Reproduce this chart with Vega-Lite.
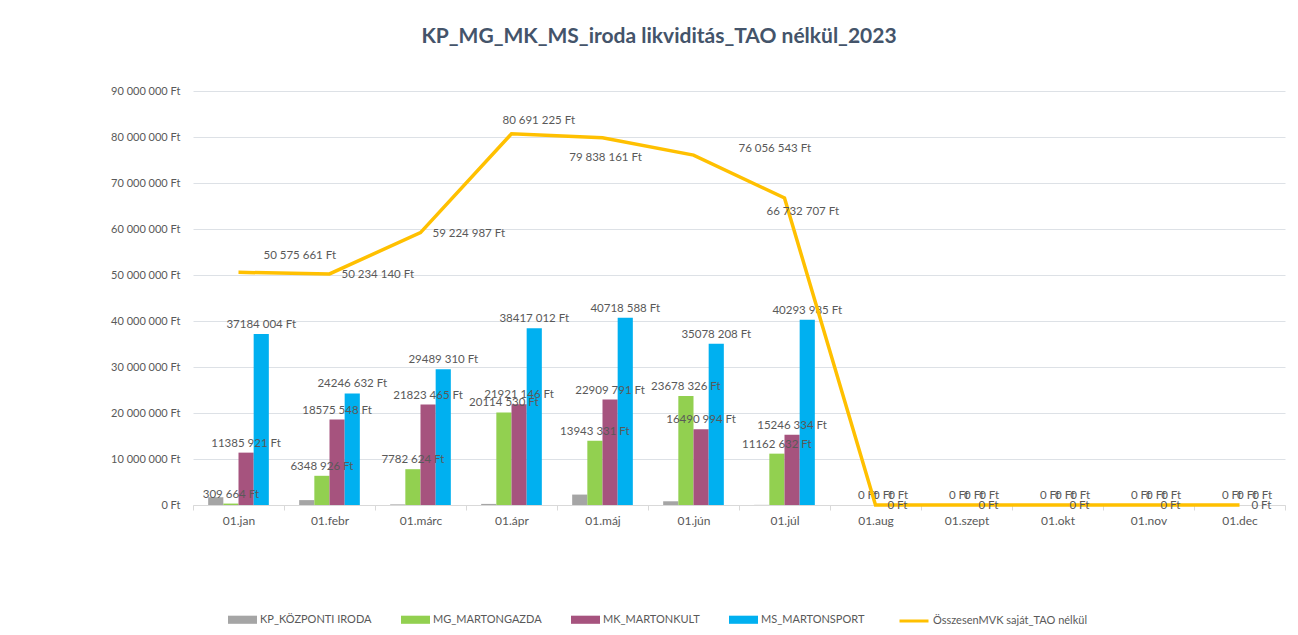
{
  "$schema": "https://vega.github.io/schema/vega-lite/v6.json",
  "width": 1092,
  "height": 414,
  "autosize": {"type": "none"},
  "padding": {"left": 193, "top": 91, "right": 13, "bottom": 130},
  "background": "white",
  "title": {
    "text": "KP_MG_MK_MS_iroda likviditás_TAO nélkül_2023",
    "font": "Lato",
    "fontSize": 21,
    "fontWeight": "bold",
    "color": "#44546A",
    "anchor": "middle",
    "frame": "group",
    "dx": -80,
    "offset": 38
  },
  "config": {
    "locale": {"number": {"decimal": ",", "thousands": " ", "grouping": [3], "currency": ["", " Ft"]}},
    "view": {"stroke": null},
    "font": "Lato",
    "text": {"font": "Lato"}
  },
  "datasets": {
    "bars": [
      {"month": "01.jan", "series": "KP_KÖZPONTI IRODA", "value": 1696072},
      {"month": "01.jan", "series": "MG_MARTONGAZDA", "value": 309664},
      {"month": "01.jan", "series": "MK_MARTONKULT", "value": 11385921},
      {"month": "01.jan", "series": "MS_MARTONSPORT", "value": 37184004},
      {"month": "01.febr", "series": "KP_KÖZPONTI IRODA", "value": 1063034},
      {"month": "01.febr", "series": "MG_MARTONGAZDA", "value": 6348926},
      {"month": "01.febr", "series": "MK_MARTONKULT", "value": 18575548},
      {"month": "01.febr", "series": "MS_MARTONSPORT", "value": 24246632},
      {"month": "01.márc", "series": "KP_KÖZPONTI IRODA", "value": 129588},
      {"month": "01.márc", "series": "MG_MARTONGAZDA", "value": 7782624},
      {"month": "01.márc", "series": "MK_MARTONKULT", "value": 21823465},
      {"month": "01.márc", "series": "MS_MARTONSPORT", "value": 29489310},
      {"month": "01.ápr", "series": "KP_KÖZPONTI IRODA", "value": 238537},
      {"month": "01.ápr", "series": "MG_MARTONGAZDA", "value": 20114530},
      {"month": "01.ápr", "series": "MK_MARTONKULT", "value": 21921146},
      {"month": "01.ápr", "series": "MS_MARTONSPORT", "value": 38417012},
      {"month": "01.máj", "series": "KP_KÖZPONTI IRODA", "value": 2266451},
      {"month": "01.máj", "series": "MG_MARTONGAZDA", "value": 13943331},
      {"month": "01.máj", "series": "MK_MARTONKULT", "value": 22909791},
      {"month": "01.máj", "series": "MS_MARTONSPORT", "value": 40718588},
      {"month": "01.jún", "series": "KP_KÖZPONTI IRODA", "value": 809015},
      {"month": "01.jún", "series": "MG_MARTONGAZDA", "value": 23678326},
      {"month": "01.jún", "series": "MK_MARTONKULT", "value": 16490994},
      {"month": "01.jún", "series": "MS_MARTONSPORT", "value": 35078208},
      {"month": "01.júl", "series": "KP_KÖZPONTI IRODA", "value": 29756},
      {"month": "01.júl", "series": "MG_MARTONGAZDA", "value": 11162632},
      {"month": "01.júl", "series": "MK_MARTONKULT", "value": 15246334},
      {"month": "01.júl", "series": "MS_MARTONSPORT", "value": 40293985},
      {"month": "01.aug", "series": "KP_KÖZPONTI IRODA", "value": 0},
      {"month": "01.aug", "series": "MG_MARTONGAZDA", "value": 0},
      {"month": "01.aug", "series": "MK_MARTONKULT", "value": 0},
      {"month": "01.aug", "series": "MS_MARTONSPORT", "value": 0},
      {"month": "01.szept", "series": "KP_KÖZPONTI IRODA", "value": 0},
      {"month": "01.szept", "series": "MG_MARTONGAZDA", "value": 0},
      {"month": "01.szept", "series": "MK_MARTONKULT", "value": 0},
      {"month": "01.szept", "series": "MS_MARTONSPORT", "value": 0},
      {"month": "01.okt", "series": "KP_KÖZPONTI IRODA", "value": 0},
      {"month": "01.okt", "series": "MG_MARTONGAZDA", "value": 0},
      {"month": "01.okt", "series": "MK_MARTONKULT", "value": 0},
      {"month": "01.okt", "series": "MS_MARTONSPORT", "value": 0},
      {"month": "01.nov", "series": "KP_KÖZPONTI IRODA", "value": 0},
      {"month": "01.nov", "series": "MG_MARTONGAZDA", "value": 0},
      {"month": "01.nov", "series": "MK_MARTONKULT", "value": 0},
      {"month": "01.nov", "series": "MS_MARTONSPORT", "value": 0},
      {"month": "01.dec", "series": "KP_KÖZPONTI IRODA", "value": 0},
      {"month": "01.dec", "series": "MG_MARTONGAZDA", "value": 0},
      {"month": "01.dec", "series": "MK_MARTONKULT", "value": 0},
      {"month": "01.dec", "series": "MS_MARTONSPORT", "value": 0}
    ],
    "total": [
      {"month": "01.jan", "total": 50575661},
      {"month": "01.febr", "total": 50234140},
      {"month": "01.márc", "total": 59224987},
      {"month": "01.ápr", "total": 80691225},
      {"month": "01.máj", "total": 79838161},
      {"month": "01.jún", "total": 76056543},
      {"month": "01.júl", "total": 66732707},
      {"month": "01.aug", "total": 0},
      {"month": "01.szept", "total": 0},
      {"month": "01.okt", "total": 0},
      {"month": "01.nov", "total": 0},
      {"month": "01.dec", "total": 0}
    ]
  },
  "encoding": {
    "x": {
      "field": "month",
      "type": "nominal",
      "sort": ["01.jan", "01.febr", "01.márc", "01.ápr", "01.máj", "01.jún", "01.júl", "01.aug", "01.szept", "01.okt", "01.nov", "01.dec"],
      "scale": {"domain": ["01.jan", "01.febr", "01.márc", "01.ápr", "01.máj", "01.jún", "01.júl", "01.aug", "01.szept", "01.okt", "01.nov", "01.dec"], "paddingInner": 0, "paddingOuter": 0},
      "axis": {
        "title": null,
        "labelAngle": 0,
        "tickBand": "extent",
        "tickSize": 5,
        "tickColor": "#D9D9D9",
        "domainColor": "#D9D9D9",
        "labelColor": "#595959",
        "labelFont": "Lato",
        "labelFontSize": 12,
        "labelPadding": 5,
        "grid": false
      }
    }
  },
  "layer": [
    {
      "data": {"name": "bars"},
      "mark": {"type": "bar"},
      "encoding": {
        "xOffset": {
          "field": "series",
          "type": "nominal",
          "scale": {"domain": ["KP_KÖZPONTI IRODA", "MG_MARTONGAZDA", "MK_MARTONKULT", "MS_MARTONSPORT"], "paddingInner": 0, "paddingOuter": 1.3}
        },
        "y": {
          "field": "value",
          "type": "quantitative",
          "scale": {"domain": [0, 90000000], "nice": false},
          "axis": {
            "title": null,
            "values": [0, 10000000, 20000000, 30000000, 40000000, 50000000, 60000000, 70000000, 80000000, 90000000],
            "format": "$,.0f",
            "grid": true,
            "gridColor": "#DDE1E6",
            "domain": false,
            "ticks": false,
            "labelPadding": 13,
            "labelColor": "#595959",
            "labelFont": "Lato",
            "labelFontSize": 11
          }
        },
        "color": {
          "field": "series",
          "type": "nominal",
          "scale": {"domain": ["KP_KÖZPONTI IRODA", "MG_MARTONGAZDA", "MK_MARTONKULT", "MS_MARTONSPORT"], "range": ["#A5A5A5", "#92D050", "#A6537E", "#00B0F0"]},
          "legend": {
            "orient": "none",
            "legendX": 35,
            "legendY": 514,
            "direction": "horizontal",
            "title": null,
            "symbolType": "M-1,-0.28H1V0.28H-1Z",
            "symbolSize": 841,
            "symbolStrokeWidth": 0,
            "labelFont": "Lato",
            "labelFontSize": 11,
            "labelColor": "#595959",
            "labelOffset": 3,
            "labelLimit": 300,
            "columnPadding": 29,
            "padding": 0
          }
        }
      }
    },
    {
      "data": {"name": "bars"},
      "transform": [{"filter": "datum.series !== 'KP_KÖZPONTI IRODA'"}],
      "mark": {
        "type": "text",
        "text": {"expr": "datum.value >= 1000 ? floor(datum.value / 1000) + ' ' + format(datum.value % 1000, '03d') + ' Ft' : datum.value + ' Ft'"},
        "baseline": "bottom",
        "align": "center",
        "dy": -4,
        "fontSize": 11.5,
        "color": "#595959"
      },
      "encoding": {
        "xOffset": {
          "field": "series",
          "type": "nominal",
          "scale": {"domain": ["KP_KÖZPONTI IRODA", "MG_MARTONGAZDA", "MK_MARTONKULT", "MS_MARTONSPORT"], "paddingInner": 0, "paddingOuter": 1.3}
        },
        "y": {"field": "value", "type": "quantitative"}
      }
    },
    {
      "data": {"name": "total"},
      "mark": {"type": "line", "strokeWidth": 3.5, "strokeJoin": "miter"},
      "encoding": {
        "y": {"field": "total", "type": "quantitative"},
        "stroke": {
          "datum": "ÖsszesenMVK saját_TAO nélkül",
          "type": "nominal",
          "scale": {"range": ["#FFC000"]},
          "legend": {
            "orient": "none",
            "legendX": 705,
            "legendY": 514,
            "direction": "horizontal",
            "title": null,
            "symbolType": "stroke",
            "symbolSize": 841,
            "symbolStrokeWidth": 3,
            "labelFont": "Lato",
            "labelFontSize": 11,
            "labelColor": "#595959",
            "labelOffset": 3,
            "labelLimit": 300,
            "padding": 0
          }
        }
      }
    },
    {
      "data": {"name": "total"},
      "encoding": {
        "y": {"field": "total", "type": "quantitative"},
        "text": {"field": "total", "type": "quantitative", "format": "$,.0f"}
      },
      "layer": [
        {
          "transform": [{"filter": "indexof(['01.febr','01.márc','01.aug','01.szept','01.okt','01.nov','01.dec'], datum.month) >= 0"}],
          "mark": {"type": "text", "align": "left", "baseline": "middle", "dx": 12, "dy": 1, "fontSize": 11.5, "color": "#595959"}
        },
        {
          "transform": [{"filter": "datum.month === '01.jan'"}],
          "mark": {"type": "text", "align": "left", "baseline": "middle", "dx": 25, "dy": -16, "fontSize": 11.5, "color": "#595959"}
        },
        {
          "transform": [{"filter": "datum.month === '01.ápr'"}],
          "mark": {"type": "text", "align": "left", "baseline": "middle", "dx": -9, "dy": -13, "fontSize": 11.5, "color": "#595959"}
        },
        {
          "transform": [{"filter": "datum.month === '01.máj'"}],
          "mark": {"type": "text", "align": "center", "baseline": "middle", "dx": 3, "dy": 20, "fontSize": 11.5, "color": "#595959"}
        },
        {
          "transform": [{"filter": "datum.month === '01.jún'"}],
          "mark": {"type": "text", "align": "left", "baseline": "middle", "dx": 45, "dy": -6, "fontSize": 11.5, "color": "#595959"}
        },
        {
          "transform": [{"filter": "datum.month === '01.júl'"}],
          "mark": {"type": "text", "align": "left", "baseline": "middle", "dx": -18, "dy": 14, "fontSize": 11.5, "color": "#595959"}
        }
      ]
    }
  ]
}
